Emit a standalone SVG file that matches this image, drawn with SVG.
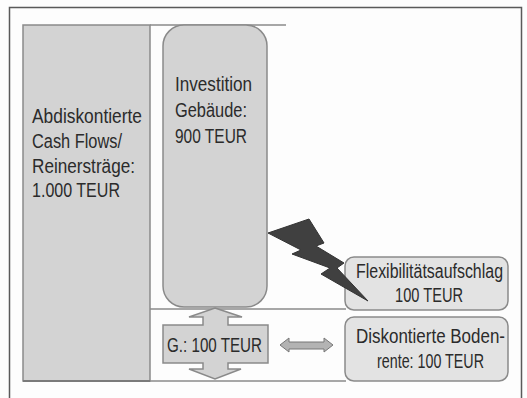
<svg xmlns="http://www.w3.org/2000/svg" width="527" height="398" viewBox="0 0 527 398">
<style>
.t{font-family:"Liberation Sans",Arial,sans-serif;font-size:21px;fill:#2b2b2b;}
.ln{stroke:#8a8a8a;stroke-width:1.5;fill:none;}
.box{fill:#d3d3d3;stroke:#8a8a8a;stroke-width:1.5;}
.lbox{fill:#e3e3e3;stroke:#8a8a8a;stroke-width:1.5;}
</style>
<rect width="527" height="398" fill="#fdfdfd"/>
<path d="M9.5,398 V7.5 H521.5 V398" fill="none" stroke="#5a5a5a" stroke-width="1.5"/>
<g id="frame-lines">
<line class="ln" x1="150" y1="25" x2="286" y2="25"/>
<line class="ln" x1="150" y1="309" x2="346" y2="309"/>
<line class="ln" x1="150" y1="381" x2="346" y2="381"/>
</g>
<g id="cashflows">
<rect class="box" x="23" y="25" width="127" height="356"/>
<line x1="23" y1="381" x2="150" y2="381" stroke="#7a7a7a" stroke-width="2"/>
<text class="t" transform="translate(32,123) scale(0.8,1)" textLength="137.5" lengthAdjust="spacingAndGlyphs">Abdiskontierte</text>
<text class="t" transform="translate(32,148) scale(0.8,1)" textLength="112.5" lengthAdjust="spacingAndGlyphs">Cash Flows/</text>
<text class="t" transform="translate(32,173) scale(0.8,1)" textLength="128.75" lengthAdjust="spacingAndGlyphs">Reinersträge:</text>
<text class="t" transform="translate(32,197) scale(0.8,1)" textLength="110" lengthAdjust="spacingAndGlyphs">1.000 TEUR</text>
</g>
<g id="investition">
<rect class="box" x="163" y="25" width="104" height="282" rx="21" ry="21"/>
<text class="t" transform="translate(175,91) scale(0.8,1)" textLength="96.25" lengthAdjust="spacingAndGlyphs">Investition</text>
<text class="t" transform="translate(175,117) scale(0.8,1)" textLength="90" lengthAdjust="spacingAndGlyphs">Gebäude:</text>
<text class="t" transform="translate(175,143) scale(0.8,1)" textLength="90" lengthAdjust="spacingAndGlyphs">900 TEUR</text>
</g>
<g id="grund">
<polygon class="box" points="215,308 242,317 228,317 228,325 268,325 268,363 228,363 228,369 241,369 215,379 189,369 203,369 203,363 163,363 163,325 203,325 203,317 189,317"/>
<text class="t" transform="translate(167,352) scale(0.8,1)" textLength="118.75" lengthAdjust="spacingAndGlyphs">G.: 100 TEUR</text>
</g>
<g id="flex">
<rect class="lbox" x="345" y="257" width="163" height="53" rx="9" ry="9"/>
<text class="t" transform="translate(356,278) scale(0.8,1)" textLength="183.75" lengthAdjust="spacingAndGlyphs">Flexibilitätsaufschlag</text>
<text class="t" transform="translate(395,302) scale(0.8,1)" textLength="85" lengthAdjust="spacingAndGlyphs">100 TEUR</text>
</g>
<g id="bodenrente">
<rect class="lbox" x="345" y="317" width="163" height="64" rx="9" ry="9"/>
<text class="t" transform="translate(356,343) scale(0.8,1)" textLength="186.25" lengthAdjust="spacingAndGlyphs">Diskontierte Boden-</text>
<text class="t" transform="translate(377,368) scale(0.8,1)" textLength="133.75" lengthAdjust="spacingAndGlyphs">rente: 100 TEUR</text>
</g>
<g id="connectors">
<polygon points="268,233 309,219 324,243 316,246 344,263 337,268 368,301 321,274 330,268 292,254 301,250" fill="#404040" stroke="#333" stroke-width="1"/>
<polygon points="280,345 289,338 289,342 324,342 324,338 333,345 324,352 324,349 289,349 289,352" fill="#b3b3b3" stroke="#777" stroke-width="1"/>
</g>
</svg>
